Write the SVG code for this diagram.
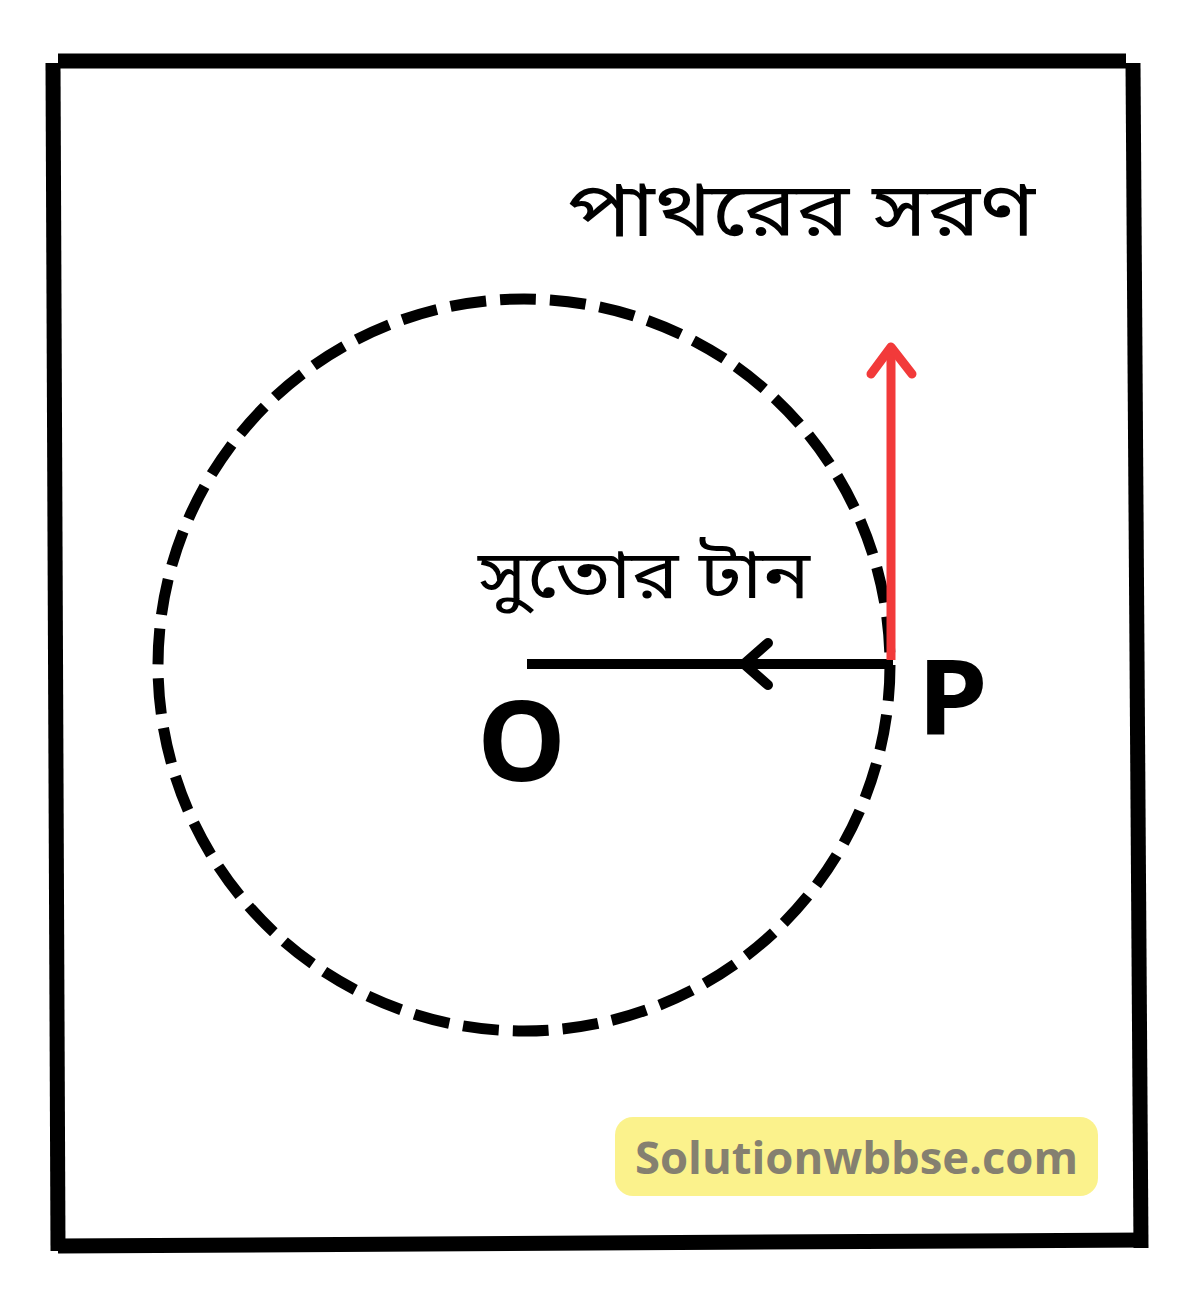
<svg xmlns="http://www.w3.org/2000/svg" width="1200" height="1301" viewBox="0 0 1200 1301">
<style>
.frame{stroke:#000;stroke-width:15;fill:none;stroke-linecap:butt}
.bn{font-family:"Noto Sans Bengali","Noto Sans","Lohit Bengali",sans-serif;fill:#000}
.lbl{font-family:"Open Sans","Liberation Sans",sans-serif;font-weight:bold;fill:#000}
</style>
<rect width="1200" height="1301" fill="#fff"/>
<g id="frame">
<line class="frame" x1="58" y1="61" x2="1126" y2="61"/>
<line class="frame" x1="53" y1="63" x2="58" y2="1251"/>
<line class="frame" x1="1133" y1="63" x2="1141" y2="1248"/>
<line class="frame" x1="58" y1="1246" x2="1147" y2="1240"/>
</g>
<g id="circle">
<circle cx="524" cy="665" r="366" fill="none" stroke="#000" stroke-width="11" stroke-dasharray="36 14"/>
</g>
<g id="connectors">
<g id="tension">
<line x1="527" y1="664" x2="893" y2="664" stroke="#000" stroke-width="10"/>
<polyline points="768,643 744,664 768,685" fill="none" stroke="#000" stroke-width="10" stroke-linecap="round" stroke-linejoin="round"/>
</g>
<g id="displacement">
<line x1="891" y1="660" x2="891" y2="348" stroke="#f23a3a" stroke-width="9"/>
<polyline points="871,374 891,347 912,374" fill="none" stroke="#f23a3a" stroke-width="9" stroke-linecap="round" stroke-linejoin="round"/>
</g>
</g>
<g id="label-displacement"><text class="bn" x="568" y="236" font-size="76" textLength="467" lengthAdjust="spacingAndGlyphs">পাথরের সরণ</text></g>
<g id="label-tension"><text class="bn" x="478" y="598" font-size="68" textLength="332" lengthAdjust="spacingAndGlyphs">সুতোর টান</text></g>
<g id="node-O"><text class="lbl" x="477" y="781" font-size="112">O</text></g>
<g id="node-P"><text class="lbl" x="917" y="734" font-size="104" textLength="71" lengthAdjust="spacingAndGlyphs">P</text></g>
<g id="watermark">
<rect x="615" y="1117" width="483" height="79" rx="18" fill="#fbf28c"/>
<text x="635" y="1174" font-family="Open Sans, Liberation Sans, sans-serif" font-weight="bold" font-size="44" fill="#858070" textLength="443" lengthAdjust="spacingAndGlyphs">Solutionwbbse.com</text>
</g>
</svg>
